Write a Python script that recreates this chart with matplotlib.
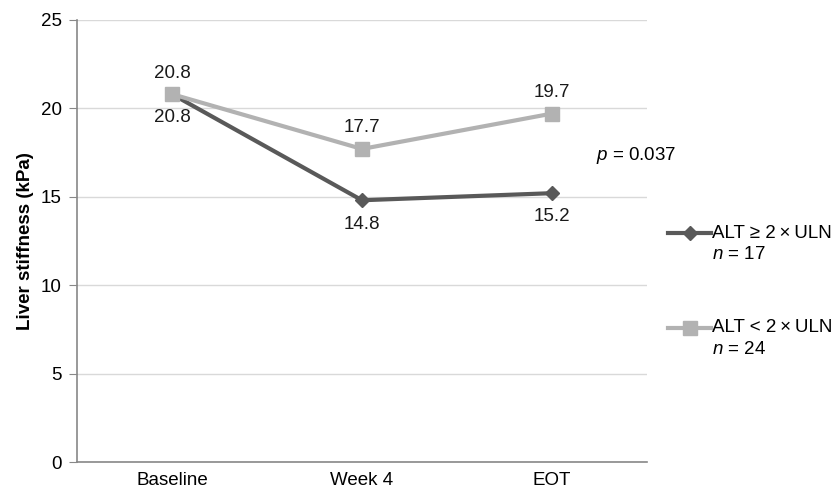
import matplotlib
matplotlib.use('Agg')
from matplotlib import pyplot as plt
from matplotlib.lines import Line2D

plt.rcParams['font.family'] = ['Liberation Sans', 'DejaVu Sans']
plt.rcParams['mathtext.fontset'] = 'custom'
plt.rcParams['mathtext.it'] = 'Liberation Sans:italic'
plt.rcParams['mathtext.rm'] = 'Liberation Sans'

categories = ['Baseline', 'Week 4', 'EOT']
alt_high = [20.8, 14.8, 15.2]   # ALT >= 2xULN, n=17
alt_low = [20.8, 17.7, 19.7]    # ALT < 2xULN, n=24
yticks = [0, 5, 10, 15, 20, 25]
series_names = ['ALT ≥ 2\u2009×\u2009ULN', 'ALT < 2\u2009×\u2009ULN']
series_n = [17, 24]

dark = '#595959'
light = '#b2b2b2'
fs = 13.5

fig = plt.figure(figsize=(8.36, 4.96), dpi=100)
ax = fig.add_axes([0.092, 0.0685, 0.682, 0.8915])

x = list(range(len(categories)))
ax.plot(x, alt_high, color=dark, lw=3, marker='D', ms=7, zorder=3)
ax.plot(x, alt_low, color=light, lw=3, marker='s', ms=10, zorder=4)

for xi, v in zip(x, alt_high):
    ax.annotate(f'{v}', (xi, v), xytext=(0, -11), textcoords='offset points',
                ha='center', va='top', fontsize=fs, color='#1a1a1a')
for xi, v in zip(x, alt_low):
    ax.annotate(f'{v}', (xi, v), xytext=(0, 9), textcoords='offset points',
                ha='center', va='bottom', fontsize=fs, color='#1a1a1a')

ax.set_xlim(-0.5, 2.5)
ax.set_ylim(0, 25)
ax.set_xticks(x)
ax.set_xticklabels(categories, fontsize=fs)
ax.set_yticks(yticks)
ax.set_yticklabels([str(t) for t in yticks], fontsize=fs)
ax.tick_params(axis='x', length=0, pad=7)
ax.tick_params(axis='y', length=6, color='#888888', pad=5)
ax.grid(axis='y', color='#d9d9d9', lw=1)
ax.set_axisbelow(True)
for s in ['top', 'right']:
    ax.spines[s].set_visible(False)
ax.spines['left'].set_color('#888888')
ax.spines['bottom'].set_color('#888888')
ax.spines['left'].set_linewidth(1.2)
ax.spines['bottom'].set_linewidth(1.2)
ax.set_ylabel('Liver stiffness (kPa)', fontsize=fs, fontweight='bold', labelpad=5)

fig.text(0.713, 0.6875, r'$p$ = 0.037', fontsize=fs, ha='left', va='center')

# legend drawn by hand so the marker sits on the first text line
styles = [dict(color=dark, marker='D', ms=7), dict(color=light, marker='s', ms=10)]
ys = [1 - 233 / 496, 1 - 328 / 496]
for name, n, st, y in zip(series_names, series_n, styles, ys):
    fig.add_artist(Line2D([0.799, 0.851], [y, y], lw=3, color=st['color'],
                          transform=fig.transFigure))
    fig.add_artist(Line2D([0.825], [y], marker=st['marker'], ms=st['ms'],
                          color=st['color'], transform=fig.transFigure))
    fig.text(0.852, y, name, fontsize=fs, ha='left', va='center')
    fig.text(0.852, y - 0.043, f'$n$ = {n}', fontsize=fs, ha='left', va='center')

fig.savefig('out.png', dpi=100)
